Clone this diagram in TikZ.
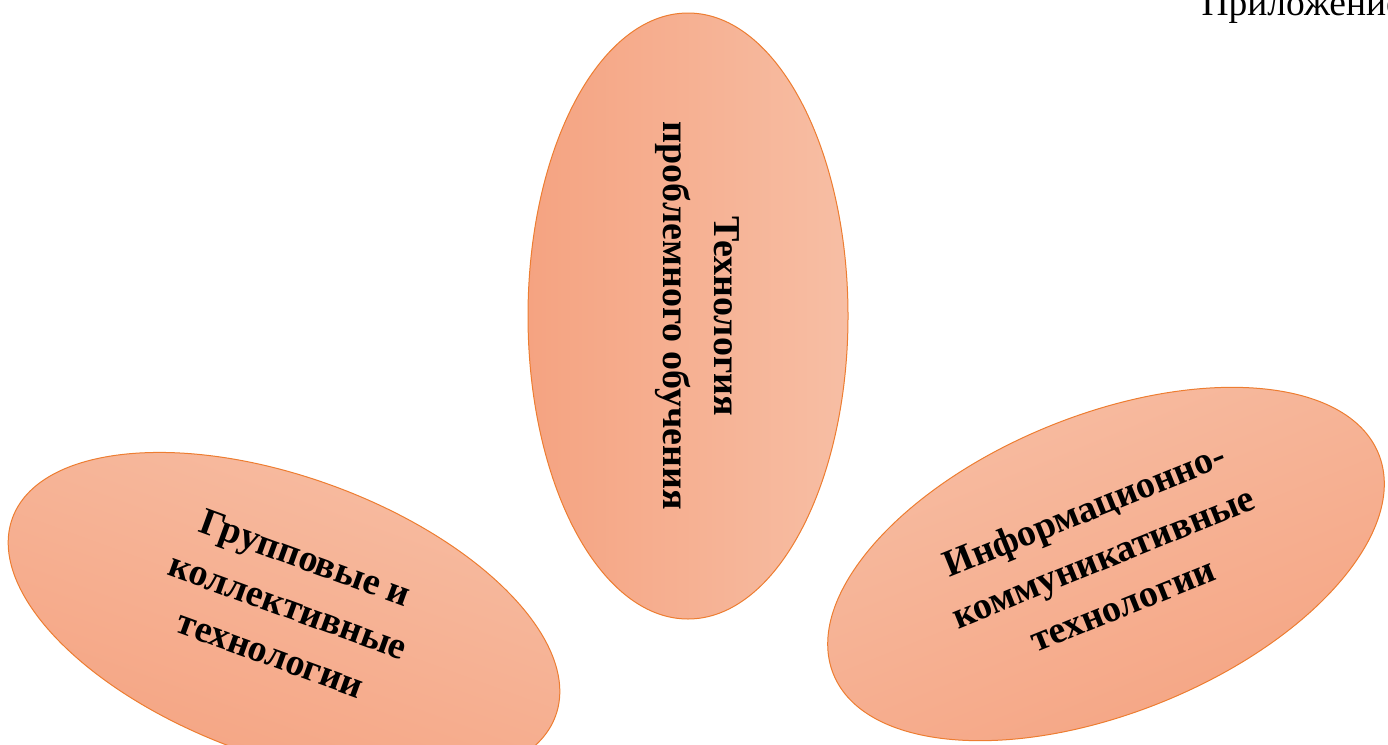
\documentclass[tikz,border=0pt]{standalone}
\usepackage{fontspec}
\setmainfont{Liberation Serif}
\usetikzlibrary{shapes.geometric,calc}
\definecolor{petaldark}{HTML}{F5A381}
\definecolor{petallight}{HTML}{F7BEA4}
\definecolor{petalline}{HTML}{ED7D31}
\begin{document}
\begin{tikzpicture}[x=1pt,y=-1pt,
	petal/.style={ellipse,draw=petalline,line width=1pt,inner sep=0pt},
	petaltext/.style={inner sep=0pt,align=center,
		font=\fontsize{38}{51}\selectfont\bfseries}]
		\useasboundingbox (0,0) rectangle (1388,744);
		\clip (0,0) rectangle (1388,744);
		% petals
		\node[petal,rotate=-90,minimum width=606pt,minimum height=320pt,
			left color=petaldark,right color=petallight] (problem) at (688,316) {};
		\node[petal,rotate=-20,minimum width=578pt,minimum height=280pt,
			top color=petallight,bottom color=petaldark,shading angle=-20] (group) at (284,617) {};
		\node[petal,rotate=22,minimum width=588pt,minimum height=298pt,
			top color=petallight,bottom color=petaldark,shading angle=22] (ict) at (1106,564) {};
		% texts
		\node[petaltext,rotate=-90] (problemtext) at ($(problem.center)!9pt!(problem.north)$)
			{Технология\\проблемного обучения};
		\node[petaltext,rotate=-20] (grouptext) at ($(group.center)!12pt!(group.north)$)
			{Групповые и\\коллективные\\технологии};
		\node[petaltext,rotate=22] (icttext) at ($(ict.center)!8pt!(ict.north)$)
			{Информационно-\\коммуникативные\\технологии};
		\node[anchor=base west,font=\fontsize{37.5}{44}\selectfont] (appendix) at (1198,15) {Приложение};
	\end{tikzpicture}
\end{document}
